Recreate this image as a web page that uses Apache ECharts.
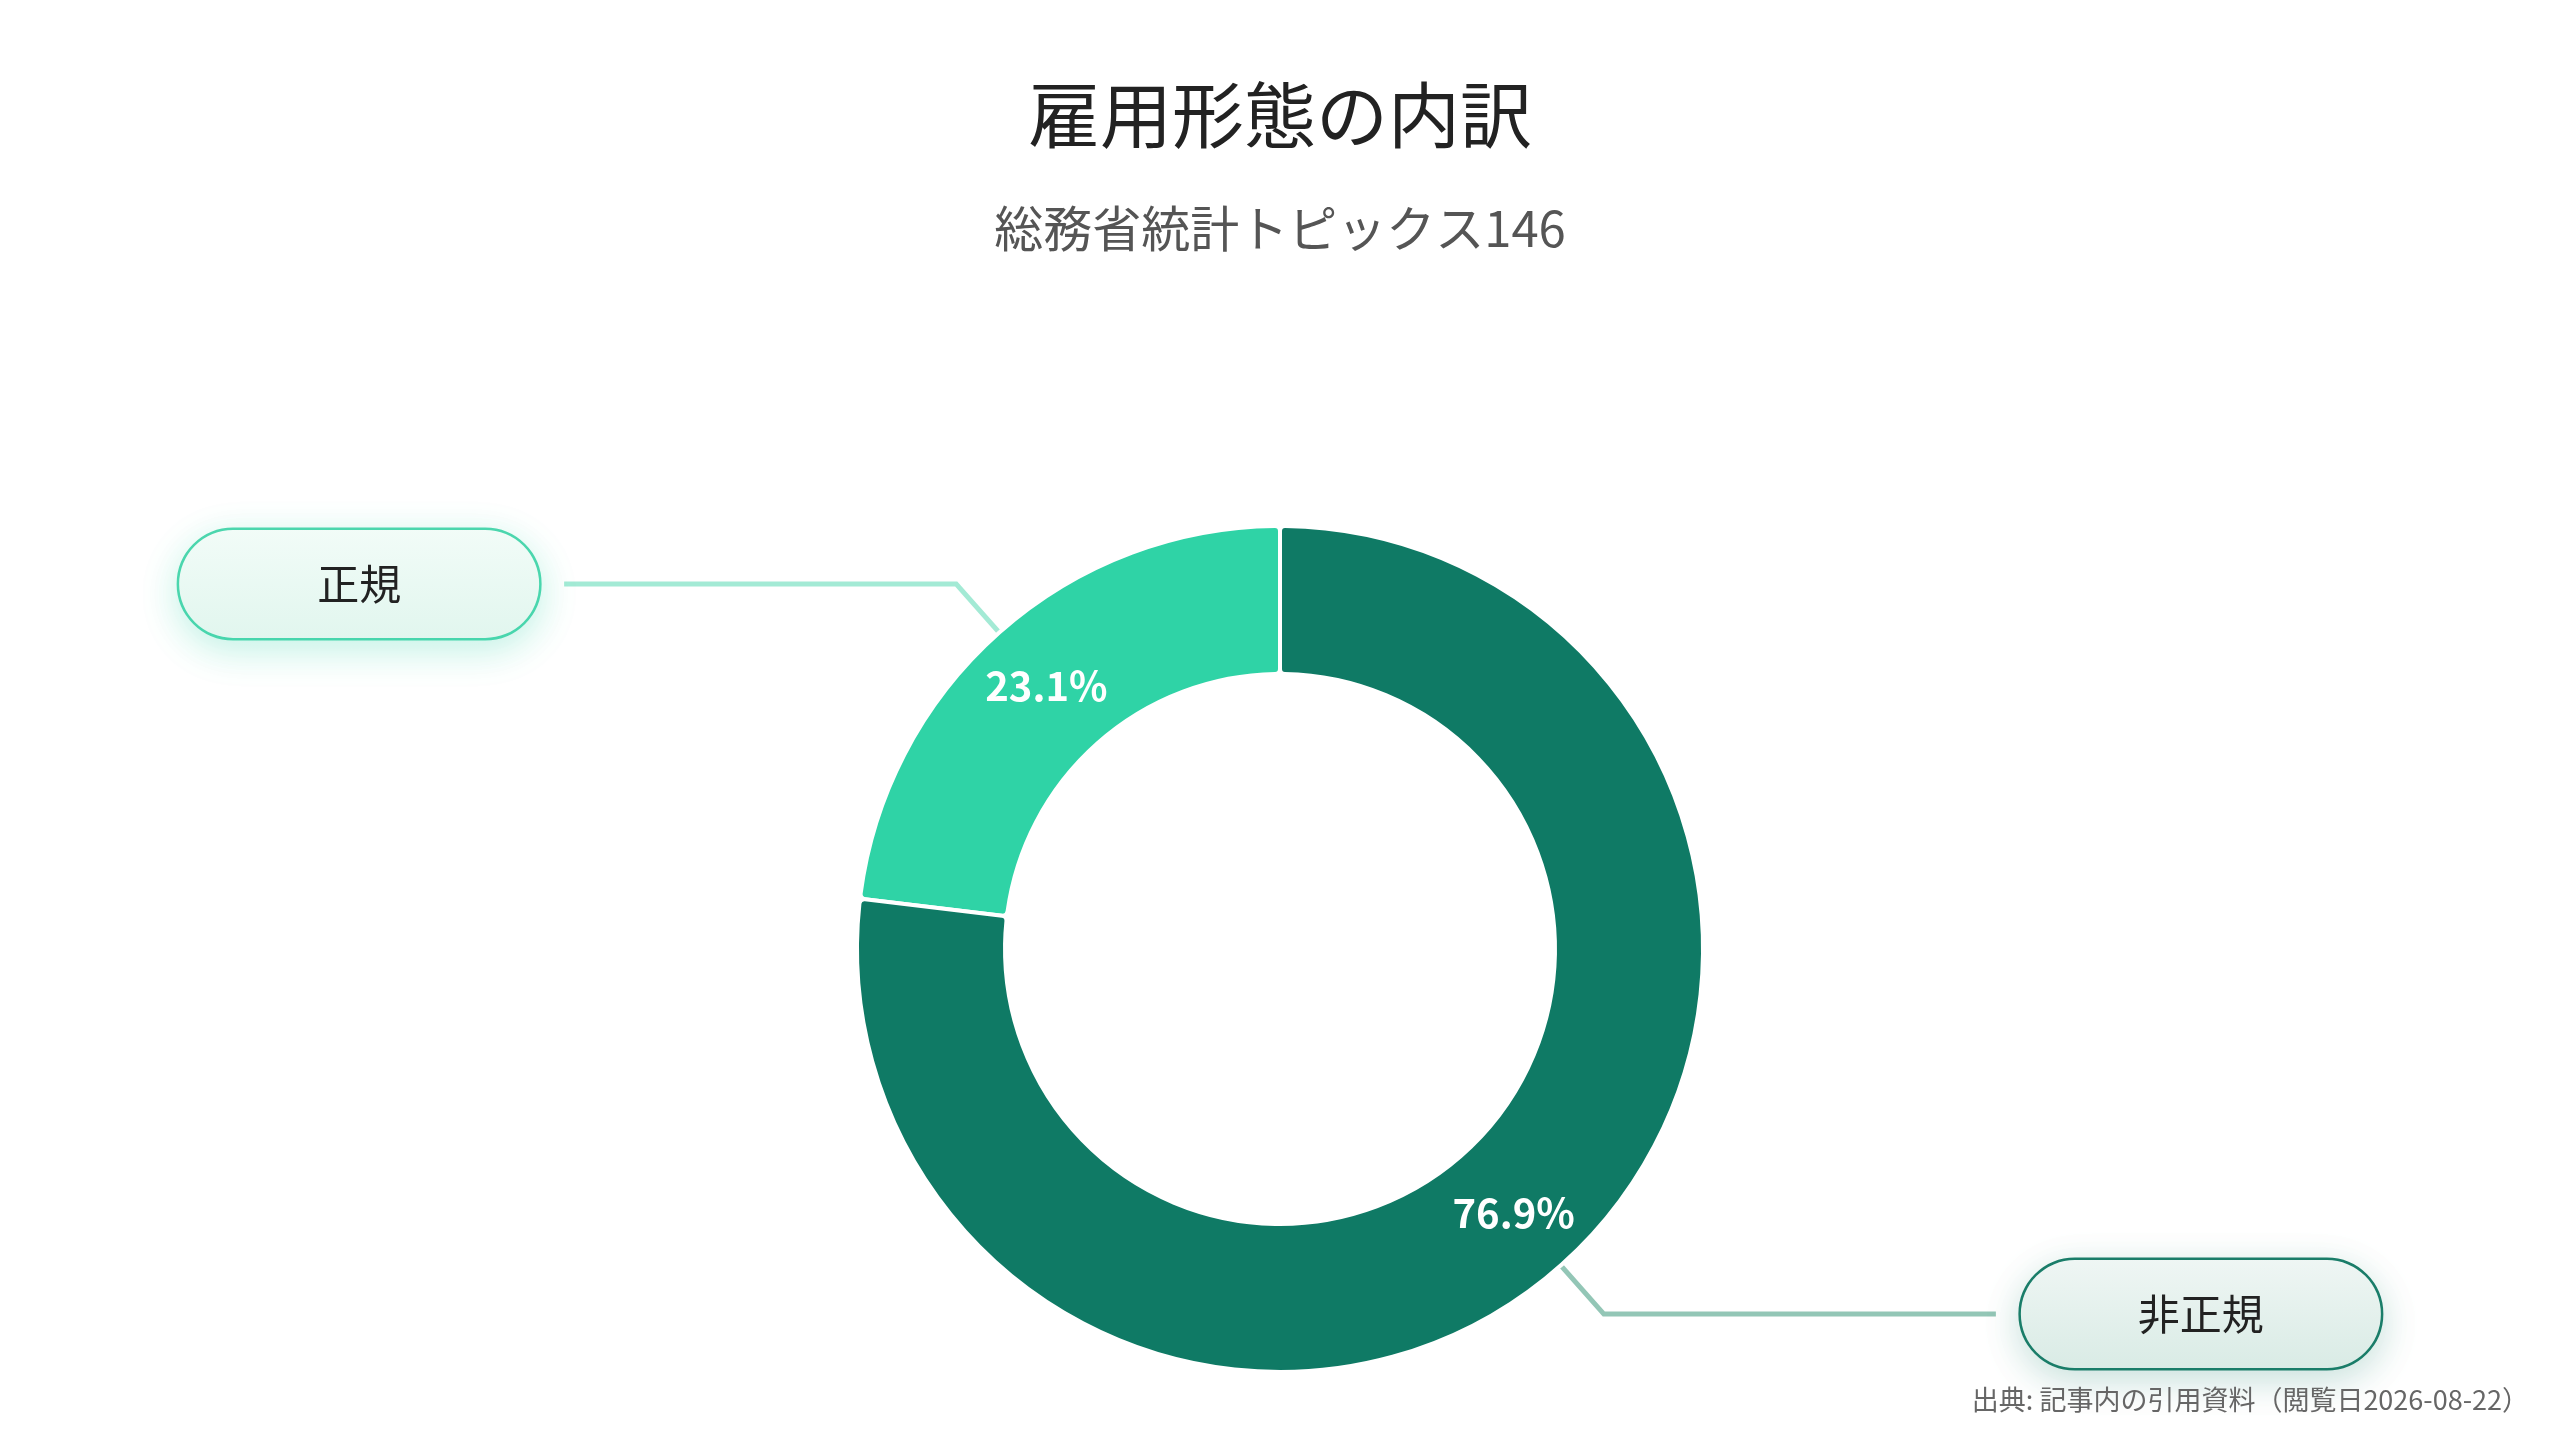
<!DOCTYPE html>
<html>
<head>
<meta charset="utf-8">
<script src="https://cdn.jsdelivr.net/npm/echarts@6/dist/echarts.min.js"></script>
<style>
html,body{margin:0;padding:0;background:#fff;}
#chart{width:2560px;height:1440px;}
</style>
</head>
<body>
<div id="chart"></div>
<script>
const titleText = '雇用形態の内訳';
const subtitleText = '総務省統計トピックス146';
const sourceText = '出典: 記事内の引用資料（閲覧日2026-08-22）';
const categories = ['正規', '非正規'];
const values = [23.1, 76.9];
const sliceColors = ['#2fd3a6', '#0f7a65'];
const lineColors = ['#a3ead5', '#93c6b6'];
const boxBorders = ['#4dd6ae', '#1b7d69'];
const boxTop = ['#f2fcf8', '#eff6f4'];
const boxBottom = ['#e1f6ee', '#d9ebe5'];
const boxShadow = ['rgba(46,211,166,0.28)', 'rgba(15,122,101,0.22)'];

const FONT = '"Noto Sans CJK JP", "Noto Sans", sans-serif';
const chart = echarts.init(document.getElementById('chart'));

const outerData = categories.map((name, i) => ({
  name: name,
  value: values[i],
  itemStyle: { color: sliceColors[i] },
  labelLine: { lineStyle: { color: lineColors[i], width: 5 } },
  label: {
    backgroundColor: new echarts.graphic.LinearGradient(0, 0, 0, 1, [
      { offset: 0, color: boxTop[i] },
      { offset: 1, color: boxBottom[i] }
    ]),
    borderColor: boxBorders[i],
    shadowColor: boxShadow[i]
  }
}));

const innerData = categories.map((name, i) => ({ name: name, value: values[i] }));

chart.setOption({
  backgroundColor: '#ffffff',
  title: [
    { text: titleText, left: 'center', top: 74,
      textStyle: { fontFamily: FONT, fontSize: 72, fontWeight: 'normal', color: '#222222' } },
    { text: subtitleText, left: 'center', top: 199,
      textStyle: { fontFamily: FONT, fontSize: 49, fontWeight: 'normal', color: '#555555' } },
    { text: sourceText, right: 26, bottom: 22,
      textStyle: { fontFamily: FONT, fontSize: 27, fontWeight: 'normal', color: '#666666' } }
  ],
  series: [
    {
      type: 'pie',
      center: ['50%', 949],
      radius: [275, 423],
      startAngle: 90,
      clockwise: false,
      avoidLabelOverlap: false,
      itemStyle: { borderColor: '#ffffff', borderWidth: 4, borderRadius: 5 },
      emphasis: { disabled: true },
      label: {
        show: true,
        position: 'outside',
        alignTo: 'none',
        distanceToLabelLine: 25,
        formatter: '{a|{b}}',
        borderWidth: 2.5,
        borderRadius: 55,
        padding: [32, 36],
        shadowBlur: 36,
        shadowOffsetY: 10,
        rich: {
          a: { fontFamily: FONT, fontSize: 42, color: '#222222', width: 288, height: 44, lineHeight: 44, align: 'center' }
        }
      },
      labelLine: { show: true, length: 65, length2: 392, smooth: false },
      data: outerData
    },
    {
      type: 'pie',
      center: ['50%', 949],
      radius: [275, 423],
      startAngle: 90,
      clockwise: false,
      silent: true,
      emphasis: { disabled: true },
      itemStyle: { color: 'rgba(0,0,0,0)', borderWidth: 0 },
      label: {
        show: true,
        position: 'inside',
        formatter: '{c}%',
        fontFamily: FONT,
        fontSize: 40,
        fontWeight: 'bold',
        color: '#ffffff'
      },
      labelLine: { show: false },
      data: innerData
    }
  ]
});
</script>
</body>
</html>
